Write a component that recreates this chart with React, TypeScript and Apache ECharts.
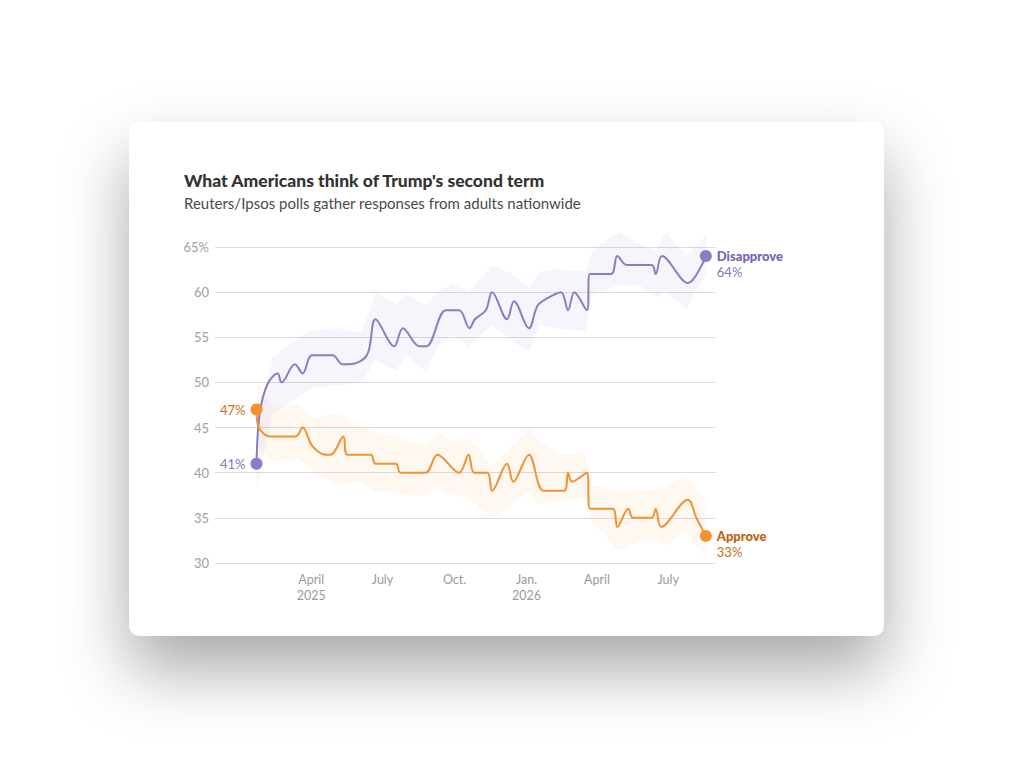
import React, { useEffect, useRef } from "react";
import * as echarts from "echarts";

const TITLE = "What Americans think of Trump's second term";
const SUBTITLE = "Reuters/Ipsos polls gather responses from adults nationwide";

const disapproveDates = [
  "2025-01-21", "2025-01-25", "2025-02-04", "2025-02-17", "2025-02-22", "2025-03-11", "2025-03-21",
  "2025-04-02", "2025-04-28", "2025-05-11", "2025-05-19", "2025-06-11", "2025-06-22", "2025-07-16",
  "2025-07-27", "2025-08-17", "2025-08-26", "2025-09-20", "2025-10-07", "2025-10-20", "2025-10-27",
  "2025-11-10", "2025-11-18", "2025-12-07", "2025-12-16", "2026-01-04", "2026-01-15", "2026-01-27",
  "2026-02-14", "2026-02-23", "2026-03-03", "2026-03-19", "2026-03-23", "2026-04-19", "2026-04-27",
  "2026-05-09", "2026-06-10", "2026-06-15", "2026-06-23", "2026-07-26", "2026-08-18",
];
const disapproveValues = [
  41, 46.5, 49.8, 51, 50, 52, 51,
  53, 53, 52, 52, 53, 57, 54,
  56, 54, 54, 58, 58, 56, 57,
  58, 60, 57, 59, 56, 58.5, 59.3,
  60, 58, 60, 58, 62, 62, 64,
  63, 63, 62, 64, 61, 64,
];

const approveDates = [
  "2025-01-21", "2025-01-24", "2025-02-08", "2025-03-12", "2025-03-21", "2025-04-02", "2025-04-19",
  "2025-04-26", "2025-05-12", "2025-05-17", "2025-06-16", "2025-06-22", "2025-07-18", "2025-07-24",
  "2025-08-25", "2025-09-09", "2025-10-07", "2025-10-19", "2025-10-26", "2025-11-12", "2025-11-18",
  "2025-12-07", "2025-12-15", "2026-01-04", "2026-01-23", "2026-02-18", "2026-02-23", "2026-02-28",
  "2026-03-19", "2026-03-23", "2026-04-21", "2026-04-27", "2026-05-11", "2026-05-17", "2026-06-10",
  "2026-06-15", "2026-06-22", "2026-07-26", "2026-08-06", "2026-08-18",
];
const approveValues = [
  47, 45, 44, 44, 45, 43, 42,
  42, 44, 42, 42, 41, 41, 40,
  40, 42, 40, 42, 40, 40, 38,
  41, 39, 42, 38, 38, 40, 39,
  40, 36, 36, 34, 36, 35, 35,
  36, 34, 37, 35, 33,
];

const bandDates = [
  "2025-01-21", "2025-02-10", "2025-03-16", "2025-04-05", "2025-05-06", "2025-06-04", "2025-06-22",
  "2025-07-18", "2025-07-31", "2025-08-25", "2025-09-11", "2025-09-28", "2025-10-19", "2025-11-18",
  "2025-12-14", "2026-01-04", "2026-01-17", "2026-02-11", "2026-03-17", "2026-03-26", "2026-04-29",
  "2026-05-25", "2026-06-15", "2026-06-28", "2026-07-24", "2026-08-18",
];
const disapproveUpper = [
  44, 52.7, 55, 55.8, 56, 55.5, 60, 58.7, 59.7, 58.6, 60, 61, 60, 63,
  62, 60.5, 62.3, 62.5, 62.3, 64.5, 66.7, 65.3, 64.5, 66.7, 64, 66.3,
];
const disapproveLower = [
  38, 46.5, 48.5, 49.5, 49.7, 50, 52.5, 51.3, 53, 51.3, 54, 55.3, 54, 56.4,
  54.5, 53.4, 56.4, 56, 55.6, 59.7, 60.8, 60.8, 59.5, 60, 58.2, 62,
];
const approveUpper = [
  50, 47.5, 47.5, 46, 46.7, 45, 44.5, 44, 43.5, 43, 44.5, 43.5, 43.8, 40.8,
  43, 44.9, 43.5, 42, 42.3, 38.6, 37.9, 38, 38.2, 38.5, 39.7, 36.8,
];
const approveLower = [
  43, 41.2, 41.6, 40, 38.6, 39, 37.9, 37.8, 37.5, 37.5, 38.2, 37.5, 37.2, 35,
  36.5, 37.9, 36.5, 36.8, 37.2, 34.6, 31.3, 32.5, 32.5, 32, 33.5, 30.5,
];

const tickDates = ["2025-04-01", "2025-07-01", "2025-10-01", "2026-01-01", "2026-04-01", "2026-07-01"];
const tickLabels = ["April\n2025", "July", "Oct.", "Jan.\n2026", "April", "July"];

const X_MIN = "2024-11-29";
const X_MAX = "2026-08-31";
const Y_MIN = 30;
const Y_MAX = 65;
const Y_STEP = 5;

const PURPLE = "#8a7cc6";
const PURPLE_TEXT = "#7564b4";
const ORANGE = "#f39030";
const ORANGE_TEXT = "#c2620e";
const FONT = "Lato, 'Noto Sans', sans-serif";

function ts(s: string): number {
  const [y, m, d] = s.split("-").map(Number);
  return Date.UTC(y, m - 1, d);
}

function bandSeries(upper: number[], lower: number[], fill: string) {
  return {
    type: "custom",
    silent: true,
    z: 1,
    data: [[ts(bandDates[0]), lower[0]]],
    renderItem: (_params: any, api: any) => {
      const pts: number[][] = [];
      for (let i = 0; i < bandDates.length; i++) pts.push(api.coord([ts(bandDates[i]), upper[i]]));
      for (let i = bandDates.length - 1; i >= 0; i--) pts.push(api.coord([ts(bandDates[i]), lower[i]]));
      return { type: "polygon", shape: { points: pts }, style: { fill } };
    },
  };
}

function endpointSeries(dates: string[], values: number[], name: string, color: string, textColor: string, valueColor: string) {
  const n = dates.length - 1;
  return {
    type: "scatter",
    symbolSize: 12,
    z: 5,
    silent: true,
    itemStyle: { color, opacity: 1 },
    data: [
      {
        value: [ts(dates[0]), values[0]],
        label: {
          show: true,
          position: "left",
          distance: 5,
          formatter: `${values[0]}%`,
          color: valueColor,
          fontFamily: FONT,
          fontSize: 13,
        },
      },
      {
        value: [ts(dates[n]), values[n]],
        label: {
          show: true,
          position: "right",
          distance: 5,
          offset: [0, 8],
          formatter: `{a|${name}}\n{b|${values[n]}%}`,
          rich: {
            a: { color: textColor, fontFamily: FONT, fontSize: 13, fontWeight: 900, lineHeight: 16 },
            b: { color: valueColor, fontFamily: FONT, fontSize: 13, lineHeight: 16 },
          },
        },
      },
    ],
  };
}

function Chart() {
  const ref = useRef<HTMLDivElement>(null);
  useEffect(() => {
    if (!ref.current) return;
    const chart = echarts.init(ref.current, undefined, { renderer: "svg" });
    const tickTs = tickDates.map(ts);
    chart.setOption({
      animation: false,
      title: [
        {
          text: TITLE,
          left: 50,
          top: 44,
          textStyle: { fontFamily: FONT, fontSize: 17.5, fontWeight: 900, color: "#333333" },
        },
        {
          text: SUBTITLE,
          left: 50,
          top: 68,
          textStyle: { fontFamily: FONT, fontSize: 15, fontWeight: "normal", color: "#4a4a4a" },
        },
      ],
      grid: { left: 86, right: 168, top: 125, bottom: 73, containLabel: false },
      xAxis: {
        type: "value",
        min: ts(X_MIN),
        max: ts(X_MAX),
        axisLine: { show: false },
        axisTick: { show: false },
        splitLine: { show: false },
        axisLabel: {
          customValues: tickTs,
          hideOverlap: false,
          margin: 8,
          color: "#9a9a9a",
          fontFamily: FONT,
          fontSize: 12.5,
          lineHeight: 16,
          formatter: (v: number) => {
            const i = tickTs.indexOf(v);
            return i >= 0 ? tickLabels[i] : "";
          },
        },
      },
      yAxis: {
        type: "value",
        min: Y_MIN,
        max: Y_MAX,
        interval: Y_STEP,
        axisLine: { show: false },
        axisTick: { show: false },
        splitLine: { lineStyle: { color: "#dcdcdc", width: 1 } },
        axisLabel: {
          margin: 6,
          color: "#a0a0a0",
          fontFamily: FONT,
          fontSize: 13,
          formatter: (v: number) => (v === Y_MAX ? `${v}%` : `${v}`),
        },
      },
      series: [
        bandSeries(disapproveUpper, disapproveLower, "rgba(138,124,198,0.075)"),
        bandSeries(approveUpper, approveLower, "rgba(243,144,48,0.065)"),
        {
          type: "line",
          name: "Disapprove",
          z: 3,
          smooth: 0.35,
          symbol: "none",
          silent: true,
          lineStyle: { color: PURPLE, width: 2 },
          data: disapproveDates.map((d, i) => [ts(d), disapproveValues[i]]),
        },
        {
          type: "line",
          name: "Approve",
          z: 3,
          smooth: 0.35,
          symbol: "none",
          silent: true,
          lineStyle: { color: ORANGE, width: 2 },
          data: approveDates.map((d, i) => [ts(d), approveValues[i]]),
        },
        endpointSeries(disapproveDates, disapproveValues, "Disapprove", PURPLE, PURPLE_TEXT, "#8676c0"),
        endpointSeries(approveDates, approveValues, "Approve", ORANGE, ORANGE_TEXT, "#c8701e"),
      ],
    });
    return () => chart.dispose();
  }, []);
  return <div ref={ref} style={{ width: 755, height: 514 }} />;
}

export default function App() {
  return (
    <div
      style={{
        position: "absolute",
        left: 0,
        top: 0,
        width: 1012,
        height: 758,
        background: "#ffffff",
        overflow: "hidden",
      }}
    >
      <div
        style={{
          position: "absolute",
          left: 129,
          top: 122,
          width: 755,
          height: 514,
          background: "#ffffff",
          borderRadius: 10,
          boxShadow: "0 34px 66px rgba(0,0,0,0.34)",
          overflow: "hidden",
        }}
      >
        <Chart />
      </div>
    </div>
  );
}
